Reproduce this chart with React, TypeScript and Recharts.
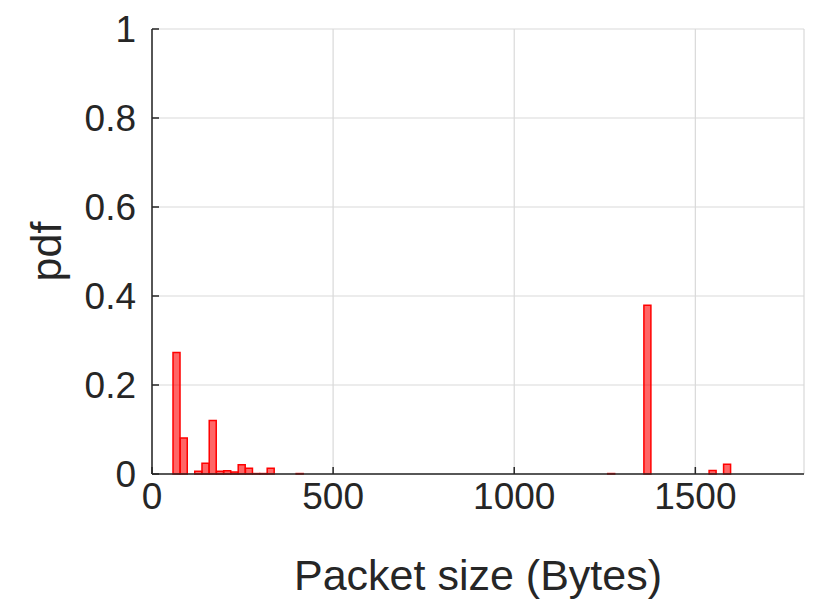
import React from "react";
import {
  BarChart,
  Bar,
  XAxis,
  YAxis,
  CartesianGrid,
} from "recharts";

// histogram bins (20-byte wide), centres in bytes
const binCenters = [68, 88, 128, 148, 168, 188, 208, 228, 248, 268, 288, 308, 328, 408, 1268, 1368, 1548, 1588];
const pdfValues = [0.273, 0.081, 0.006, 0.024, 0.12, 0.006, 0.0075, 0.0045, 0.021, 0.013, 0.001, 0.001, 0.013, 0.001, 0.001, 0.379, 0.008, 0.022];

const xTicks = [0, 500, 1000, 1500];
const yTicks = [0, 0.2, 0.4, 0.6, 0.8, 1];

const data = binCenters.map((x, i) => ({ size: x, pdf: pdfValues[i] }));

const FONT = "'Liberation Sans', Arial, Helvetica, sans-serif";
const TEXT = "#262626";
const TICK_LEN = 7;

function BottomTick({ x, y, payload }: any) {
  return (
    <g>
      <line x1={x} y1={y} x2={x} y2={y - TICK_LEN} stroke={TEXT} strokeWidth={1.5} />
      <text x={x} y={y + 35} textAnchor="middle" fill={TEXT} fontSize={37} fontFamily={FONT}>
        {payload.value}
      </text>
    </g>
  );
}

function TopTick({ x, y }: any) {
  return <line x1={x} y1={y} x2={x} y2={y + TICK_LEN} stroke={TEXT} strokeWidth={1.5} />;
}

function LeftTick({ x, y, payload }: any) {
  return (
    <g>
      <line x1={x} y1={y} x2={x + TICK_LEN} y2={y} stroke={TEXT} strokeWidth={1.5} />
      <text x={x - 16} y={y + 13} textAnchor="end" fill={TEXT} fontSize={37} fontFamily={FONT}>
        {payload.value}
      </text>
    </g>
  );
}

function RightTick({ x, y }: any) {
  return <line x1={x} y1={y} x2={x - TICK_LEN} y2={y} stroke={TEXT} strokeWidth={1.5} />;
}

export default function App() {
  return (
    <div style={{ width: 814, height: 595 }}>
      <BarChart
        width={814}
        height={595}
        data={data}
        margin={{ top: 21, right: 18, left: 0, bottom: 0 }}
        barCategoryGap={0}
        barGap={0}
      >
        <CartesianGrid stroke="#d9d9d9" strokeWidth={1.2} xAxisId="bottom" yAxisId="left" />
        <XAxis
          xAxisId="bottom"
          dataKey="size"
          type="number"
          domain={[0, 1800]}
          ticks={xTicks}
          interval={0}
          tickSize={0}
          tickMargin={0}
          tickLine={false}
          axisLine={{ stroke: TEXT, strokeWidth: 1.5 }}
          tick={<BottomTick />}
          height={129}
          label={({ viewBox }: any) => (
            <text
              x={viewBox.x + viewBox.width / 2}
              y={582}
              textAnchor="middle"
              fill={TEXT}
              fontSize={43}
              fontFamily={FONT}
            >
              Packet size (Bytes)
            </text>
          )}
        />
        <XAxis
          xAxisId="top"
          orientation="top"
          dataKey="size"
          type="number"
          domain={[0, 1800]}
          ticks={xTicks}
          interval={0}
          tickSize={0}
          tickMargin={0}
          tickLine={false}
          axisLine={{ stroke: TEXT, strokeWidth: 1.5 }}
          tick={<TopTick />}
          height={0}
        />
        <YAxis
          yAxisId="left"
          type="number"
          domain={[0, 1]}
          ticks={yTicks}
          interval={0}
          tickSize={0}
          tickMargin={0}
          tickLine={false}
          axisLine={{ stroke: TEXT, strokeWidth: 1.5 }}
          tick={<LeftTick />}
          width={144}
          label={({ viewBox }: any) => (
            <text
              x={53}
              y={viewBox.y + viewBox.height / 2}
              transform={`rotate(-90, 53, ${viewBox.y + viewBox.height / 2})`}
              textAnchor="middle"
              fill={TEXT}
              fontSize={43}
              fontFamily={FONT}
            >
              pdf
            </text>
          )}
        />
        <YAxis
          yAxisId="right"
          orientation="right"
          type="number"
          domain={[0, 1]}
          ticks={yTicks}
          interval={0}
          tickSize={0}
          tickMargin={0}
          tickLine={false}
          axisLine={{ stroke: TEXT, strokeWidth: 1.5 }}
          tick={<RightTick />}
          width={0}
        />
        <Bar
          xAxisId="bottom"
          yAxisId="left"
          dataKey="pdf"
          fill="#ff0000"
          fillOpacity={0.6}
          stroke="#ff0000"
          strokeWidth={1.5}
          isAnimationActive={false}
        />
      </BarChart>
    </div>
  );
}
